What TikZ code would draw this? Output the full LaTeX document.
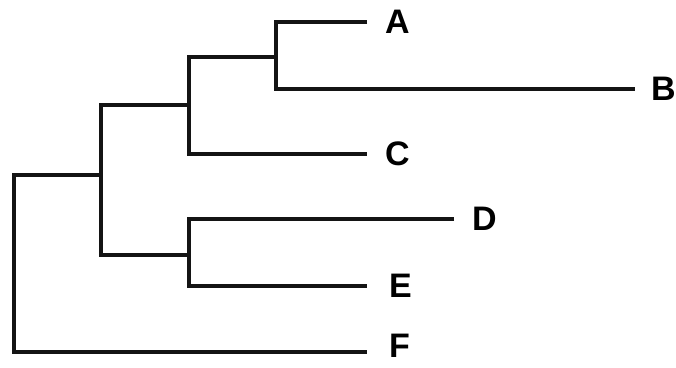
\documentclass[tikz,border=0pt]{standalone}
\usepackage{fontspec}
\setmainfont{Liberation Sans}
\begin{document}
\begin{tikzpicture}[x=1pt,y=-1pt,
  branch/.style={line width=4pt,line cap=butt,line join=miter,black!92},
  leaf/.style={anchor=west,inner ysep=0pt,inner xsep=0pt,font=\fontsize{34}{34}\selectfont\bfseries}]
\useasboundingbox (0,0) rectangle (676,367);
% leaf labels
\node[leaf] (A) at (385,22) {A};
\node[leaf] (B) at (651,89) {B};
\node[leaf] (C) at (385,154) {C};
\node[leaf] (D) at (472,219) {D};
\node[leaf] (E) at (389,286) {E};
\node[leaf] (F) at (389,346) {F};
% branch tips
\coordinate (a) at (367,22);
\coordinate (b) at (635,89);
\coordinate (c) at (367,154);
\coordinate (d) at (454,219);
\coordinate (e) at (367,286);
\coordinate (f) at (367,352);
% internal nodes
\coordinate (nAB) at (276,57);
\coordinate (nABC) at (189,105);
\coordinate (nDE) at (189,255);
\coordinate (nABCDE) at (101,175);
\coordinate (root) at (14,263);
% branches
\draw[branch] (a) -| (nAB) |- (b);
\draw[branch] (nAB) -| (nABC) |- (c);
\draw[branch] (d) -| (nDE) |- (e);
\draw[branch] (nABC) -| (nABCDE) |- (nDE);
\draw[branch] (nABCDE) -| (root) |- (f);
\end{tikzpicture}
\end{document}
